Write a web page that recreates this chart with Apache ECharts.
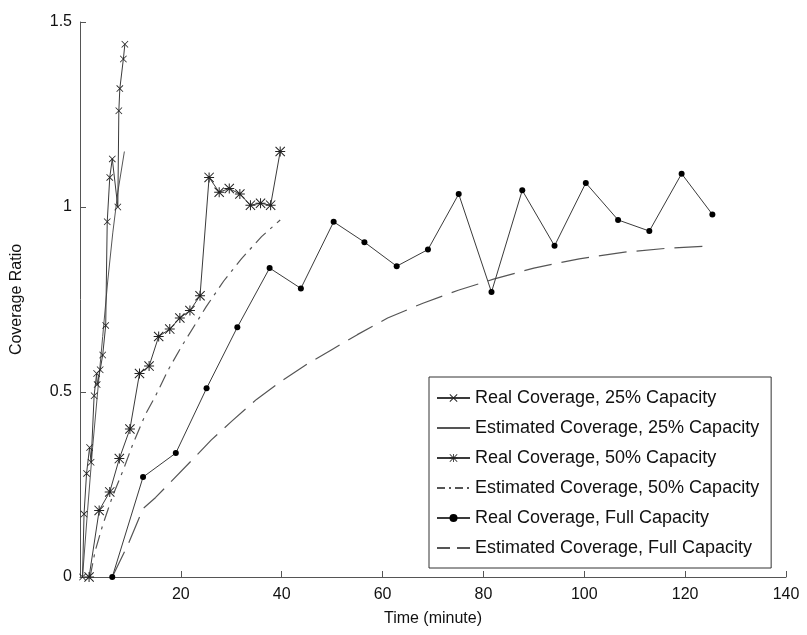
<!DOCTYPE html>
<html>
<head>
<meta charset="utf-8">
<script src="https://cdn.jsdelivr.net/npm/echarts@6/dist/echarts.min.js"></script>
<style>
  html, body { margin: 0; padding: 0; background: #fff; }
  #container1 { width: 807px; height: 635px; }
</style>
</head>
<body>
<div id="container1"></div>
<script>
// minutes / coverage ratio
var real25X = [0.5, 0.8, 1.3, 1.9, 2.2, 2.8, 3.3, 3.4, 4.0, 4.5, 5.1, 5.4, 5.9, 6.4, 7.5, 7.7, 7.9, 8.6, 8.9];
var real25Y = [0, 0.17, 0.28, 0.35, 0.31, 0.49, 0.55, 0.52, 0.56, 0.6, 0.68, 0.96, 1.08, 1.13, 1.0, 1.26, 1.32, 1.4, 1.44];

var est25X = [0.5, 1.5, 2.5, 3.5, 4.5, 5.5, 6.5, 7.5, 8.8];
var est25Y = [0, 0.18, 0.35, 0.5, 0.65, 0.8, 0.93, 1.04, 1.15];

var real50X = [1.8, 3.8, 5.9, 7.8, 9.9, 11.8, 13.7, 15.6, 17.8, 19.8, 21.8, 23.8, 25.6, 27.6, 29.6, 31.7, 33.8, 35.8, 37.8, 39.7];
var real50Y = [0, 0.18, 0.23, 0.32, 0.4, 0.55, 0.57, 0.65, 0.67, 0.7, 0.72, 0.76, 1.08, 1.04, 1.05, 1.035, 1.005, 1.01, 1.005, 1.15];

var est50X = [2, 3, 4.5, 6.5, 8.6, 10.5, 13, 15, 17.5, 20, 25, 28.5, 32, 36, 39.7];
var est50Y = [0, 0.07, 0.14, 0.22, 0.29, 0.36, 0.44, 0.49, 0.56, 0.62, 0.73, 0.8, 0.86, 0.92, 0.965];

var realFullX = [6.4, 12.5, 19.0, 25.1, 31.2, 37.6, 43.8, 50.3, 56.4, 62.8, 69.0, 75.1, 81.6, 87.7, 94.1, 100.3, 106.7, 112.9, 119.3, 125.4];
var realFullY = [0, 0.27, 0.335, 0.51, 0.675, 0.835, 0.78, 0.96, 0.905, 0.84, 0.885, 1.035, 0.77, 1.045, 0.895, 1.065, 0.965, 0.935, 1.09, 0.98];

var estFullX = [6.4, 9.6, 12.5, 15, 17.5, 22.5, 26, 30, 35, 40, 45, 50, 55, 61, 68, 75, 82, 90, 99, 108, 116, 125.4];
var estFullY = [0, 0.09, 0.185, 0.215, 0.25, 0.32, 0.37, 0.42, 0.48, 0.53, 0.575, 0.615, 0.655, 0.7, 0.74, 0.775, 0.805, 0.835, 0.86, 0.878, 0.888, 0.895];

var names = [
    'Real Coverage, 25% Capacity',
    'Estimated Coverage, 25% Capacity',
    'Real Coverage, 50% Capacity',
    'Estimated Coverage, 50% Capacity',
    'Real Coverage, Full Capacity',
    'Estimated Coverage, Full Capacity'
];

function pairs(xs, ys) {
    return xs.map(function (x, i) { return [x, ys[i]]; });
}

// marker shapes
var crossPath = 'path://M0,0.8 L0.8,0 L10,9.2 L9.2,10 Z M9.2,0 L10,0.8 L0.8,10 L0,9.2 Z';
var starPath = 'path://M4.5,0 h1 v10 h-1 Z M0,4.5 h10 v1 h-10 Z M0,0.7 L0.7,0 L10,9.3 L9.3,10 Z M9.3,0 L10,0.7 L0.7,10 L0,9.3 Z';

var font = '"Liberation Sans", Arial, Helvetica, sans-serif';
var lineCol = '#3a3a3a';
var estCol = '#555555';

// legend entries: estimated curves show only their line
var noMark = { color: 'rgba(0,0,0,0)', borderWidth: 0 };
var legendData = [
    { name: names[0] },
    { name: names[1], itemStyle: noMark },
    { name: names[2] },
    { name: names[3], itemStyle: noMark, lineStyle: { type: [8, 4, 2, 4] } },
    { name: names[4] },
    { name: names[5], itemStyle: noMark, lineStyle: { type: [13, 7] } }
];

var dom = document.getElementById("container1");
var myChart = echarts.init(dom);
var option = {
    backgroundColor: '#fff',
    animation: false,
    textStyle: { fontFamily: font },
    grid: { left: 80, right: 21, top: 22, bottom: 58 },
    legend: {
        orient: 'vertical',
        left: 429,
        top: 377,
        data: legendData,
        itemWidth: 33,
        itemHeight: 10,
        itemGap: 12,
        padding: [12, 12, 11, 7],
        borderColor: '#333',
        borderWidth: 1,
        borderRadius: 0,
        backgroundColor: '#fff',
        selectedMode: false,
        textStyle: { fontSize: 18, color: '#111', fontFamily: font }
    },
    xAxis: {
        type: 'value',
        min: 0,
        max: 140,
        interval: 20,
        name: 'Time (minute)',
        nameLocation: 'middle',
        nameGap: 34,
        nameTextStyle: { fontSize: 16, color: '#111' },
        axisLine: { lineStyle: { color: '#555', width: 1 } },
        axisTick: { inside: true, length: 6, lineStyle: { color: '#555' } },
        axisLabel: {
            fontSize: 16, color: '#111', margin: 10,
            formatter: function (v) { return v === 0 ? '' : v; }
        },
        splitLine: { show: false }
    },
    yAxis: {
        type: 'value',
        min: 0,
        max: 1.5,
        interval: 0.5,
        name: 'Coverage Ratio',
        nameLocation: 'middle',
        nameGap: 55,
        nameTextStyle: { fontSize: 16, color: '#111' },
        axisLine: { show: true, lineStyle: { color: '#555', width: 1 } },
        axisTick: { show: true, inside: true, length: 6, lineStyle: { color: '#555' } },
        axisLabel: { fontSize: 16, color: '#111', margin: 8 },
        splitLine: { show: false }
    },
    series: [
        {
            name: names[0],
            type: 'line',
            data: pairs(real25X, real25Y),
            symbol: crossPath,
            symbolSize: 7,
            itemStyle: { color: '#222' },
            lineStyle: { color: lineCol, width: 1 },
            z: 5
        },
        {
            name: names[1],
            type: 'line',
            data: pairs(est25X, est25Y),
            symbol: 'none',
            itemStyle: { color: estCol },
            lineStyle: { color: estCol, width: 1 }
        },
        {
            name: names[2],
            type: 'line',
            data: pairs(real50X, real50Y),
            symbol: starPath,
            symbolSize: 10,
            itemStyle: { color: '#222' },
            lineStyle: { color: lineCol, width: 1 },
            z: 5
        },
        {
            name: names[3],
            type: 'line',
            data: pairs(est50X, est50Y),
            symbol: 'none',
            itemStyle: { color: estCol },
            lineStyle: { color: estCol, width: 1.2, type: [14, 6, 3, 6] }
        },
        {
            name: names[4],
            type: 'line',
            data: pairs(realFullX, realFullY),
            symbol: 'circle',
            symbolSize: 6,
            itemStyle: { color: '#000' },
            lineStyle: { color: lineCol, width: 1 },
            z: 5
        },
        {
            name: names[5],
            type: 'line',
            data: pairs(estFullX, estFullY),
            symbol: 'none',
            itemStyle: { color: estCol },
            lineStyle: { color: estCol, width: 1.2, type: [28, 10] }
        }
    ]
};

if (option && typeof option === "object") {
    myChart.setOption(option, true);
}
</script>
</body>
</html>
